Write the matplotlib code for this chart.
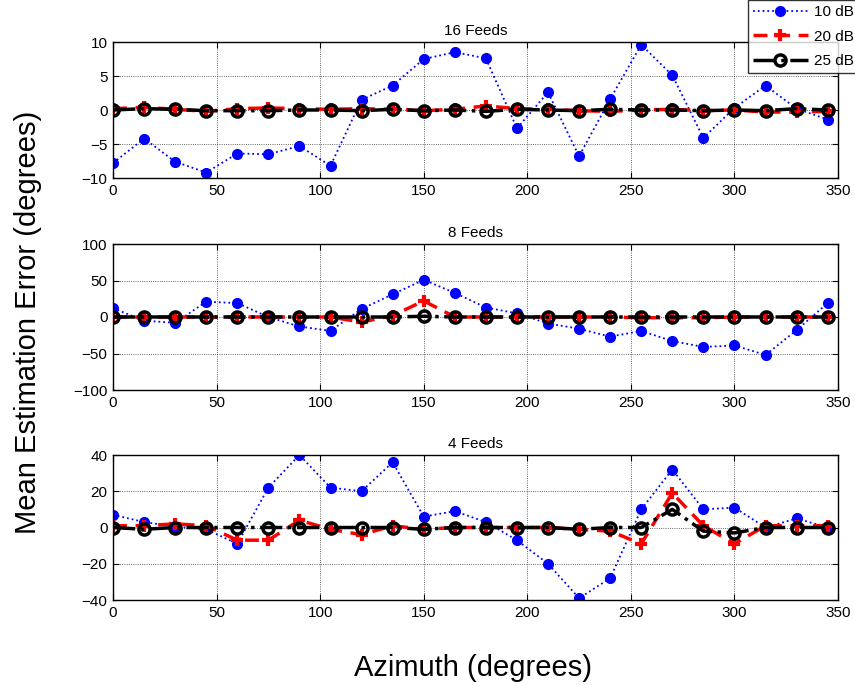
import matplotlib
matplotlib.use('Agg')
import matplotlib.pyplot as plt
import numpy as np

plt.rcParams['font.family'] = ['Liberation Sans', 'DejaVu Sans']

azimuth = np.arange(0, 360, 15)

# 16 feeds
f16_10dB = [-7.8, -4.2, -7.6, -9.2, -6.4, -6.5, -5.3, -8.2, 1.5, 3.6, 7.5, 8.5,
            7.6, -2.7, 2.6, -6.8, 1.6, 9.6, 5.1, -4.1, 0.3, 3.6, 0.2, -1.4]
f16_20dB = [0.2, 0.4, 0.1, -0.2, 0.2, 0.3, 0.2, 0.1, 0.2, 0.1, -0.1, 0.1,
            0.6, 0.2, 0.1, -0.1, -0.2, 0.0, 0.1, -0.1, 0.0, -0.3, -0.3, -0.2]
f16_25dB = [0.0, 0.2, 0.1, -0.1, -0.1, -0.1, 0.0, 0.0, -0.1, 0.1, -0.1, 0.0,
            -0.2, 0.1, 0.0, -0.1, 0.1, 0.0, 0.0, -0.1, 0.0, -0.1, 0.2, 0.0]

# 8 feeds
f8_10dB = [12, -5, -8, 21, 19, 0, -13, -19, 11, 31, 51, 33,
           13, 5, -9, -16, -27, -19, -33, -41, -39, -52, -18, 19]
f8_20dB = [0, 0, 0, 0, 0, 0, 0, 0, -7, 2, 22, 0,
           0, 0, 0, 0, 0, -1, -1, -1, 0, 0, 0, 0]
f8_25dB = [0, 0, 0, 0, 0, 0, 0, 0, 0, 0, 1, 0,
           0, 0, 0, 0, 0, 0, 0, 0, 0, 0, 0, 0]

# 4 feeds
f4_10dB = [7, 3, 0.5, -1, -9, 22, 40, 22, 20, 36, 6, 9,
           3, -7, -20, -39, -28, 10, 32, 10, 11, 0, 5, 0]
f4_20dB = [1, 1, 2, 1, -7, -7, 4, -1, -4, 1, -1, 0,
           0, 0, 0, -1, -2, -9, 19, 1, -9, 1, 1, 1]
f4_25dB = [0, -1, 0, 0, 0, 0, 0, 0, 0, 0, -1, 0,
           0, 0, 0, -1, 0, 0, 10, -2, -3, 0, 0, 0]

titles = ['16 Feeds', '8 Feeds', '4 Feeds']
data = [(f16_10dB, f16_20dB, f16_25dB),
        (f8_10dB, f8_20dB, f8_25dB),
        (f4_10dB, f4_20dB, f4_25dB)]
ylims = [(-10, 10), (-100, 100), (-40, 40)]
yticks = [[-10, -5, 0, 5, 10], [-100, -50, 0, 50, 100], [-40, -20, 0, 20, 40]]
series_labels = ['10 dB', '20 dB', '25 dB']

fig = plt.figure(figsize=(8.55, 6.85), dpi=100)
# axes boxes in pixels (top, bottom)
boxes = [(42, 178), (244, 390), (455, 600)]
W, H = 855.0, 685.0
left, right = 113, 838

for i in range(3):
    top, bot = boxes[i]
    ax = fig.add_axes([left / W, 1 - bot / H, (right - left) / W, (bot - top) / H])
    s10, s20, s25 = data[i]
    l1, = ax.plot(azimuth, s10, color='blue', linestyle=':', linewidth=1.3,
                  marker='o', markersize=7, markeredgecolor='blue', label=series_labels[0])
    l2, = ax.plot(azimuth, s20, color='red', linestyle='--', linewidth=2.5,
                  dashes=(4, 2.5), marker='+', markersize=9, markeredgewidth=3,
                  label=series_labels[1])
    l3, = ax.plot(azimuth, s25, color='black', linestyle='-.', linewidth=2.5,
                  marker='o', markersize=8, markerfacecolor='none',
                  markeredgewidth=2.5, markeredgecolor='black', label=series_labels[2])
    ax.set_xlim(0, 350)
    ax.set_ylim(*ylims[i])
    ax.set_yticks(yticks[i])
    ax.set_xticks(np.arange(0, 351, 50))
    ax.grid(True, color='black', linestyle=':', linewidth=0.6, alpha=0.8)
    ax.set_title(titles[i], fontsize=11, pad=5)
    ax.tick_params(direction='in', labelsize=11, length=4, top=True, right=True, pad=4)
    for sp in ax.spines.values():
        sp.set_linewidth(1.0)
    if i == 0:
        handles = [l1, l2, l3]

leg = fig.legend(handles, series_labels, loc='lower left',
                 bbox_to_anchor=(748 / W, 1 - 73 / H), bbox_transform=fig.transFigure,
                 fontsize=11, frameon=True, fancybox=False, edgecolor='black',
                 handlelength=3.6, handletextpad=0.4, labelspacing=0.7,
                 borderpad=0.3, borderaxespad=0)
leg.get_frame().set_linewidth(1.0)

fig.text(473 / W, 1 - 676 / H, 'Azimuth (degrees)', ha='center', va='baseline', fontsize=21)
fig.text(28 / W, 1 - 322 / H, 'Mean Estimation Error (degrees)', ha='center', va='center',
         rotation=90, fontsize=21)

fig.savefig('out.png', dpi=100)
